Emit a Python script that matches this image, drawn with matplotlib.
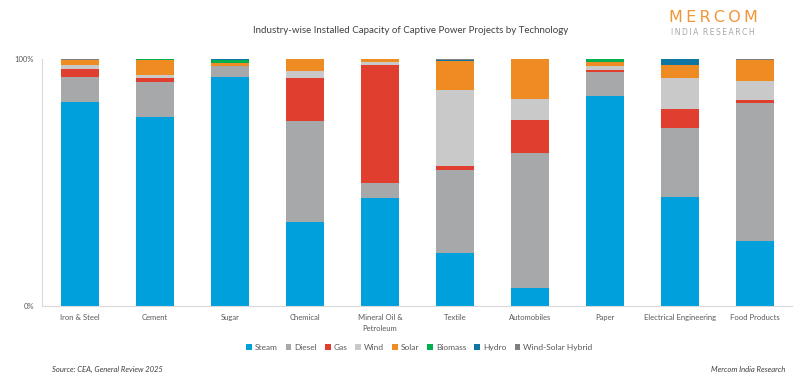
import numpy as np
import matplotlib
matplotlib.use("Agg")
import matplotlib.pyplot as plt
from matplotlib.patches import Patch

plt.rcParams['font.family'] = ['Lato', 'DejaVu Sans']

industries = ["Iron & Steel", "Cement", "Sugar", "Chemical", "Mineral Oil &\nPetroleum",
              "Textile", "Automobiles", "Paper", "Electrical Engineering", "Food Products"]

# share of installed capacity (%) per technology
steam = [82.6, 76.5, 92.7, 34.0, 43.7, 21.5, 7.3, 85.0, 44.1, 26.3]
diesel = [10.1, 14.2, 4.5, 40.9, 6.1, 33.6, 54.7, 9.7, 27.9, 55.9]
gas = [3.2, 1.6, 0.0, 17.4, 47.6, 1.6, 13.4, 0.9, 7.7, 1.3]
wind = [1.6, 1.2, 0.0, 2.9, 1.2, 30.8, 8.6, 1.7, 12.7, 7.8]
solar = [2.1, 6.1, 1.2, 4.8, 1.4, 11.7, 16.0, 1.3, 5.1, 8.3]
biomass = [0.0, 0.4, 1.2, 0.0, 0.0, 0.0, 0.0, 1.4, 0.0, 0.0]
hydro = [0.0, 0.0, 0.4, 0.0, 0.0, 0.4, 0.0, 0.0, 2.5, 0.0]
hybrid = [0.4, 0.0, 0.0, 0.0, 0.0, 0.4, 0.0, 0.0, 0.0, 0.4]

series = [("Steam", steam, "#00A0DC"), ("Diesel", diesel, "#A7A8AA"),
          ("Gas", gas, "#E03E2F"), ("Wind", wind, "#C9C9C9"),
          ("Solar", solar, "#EE8B22"), ("Biomass", biomass, "#00B050"),
          ("Hydro", hydro, "#0E76A0"), ("Wind-Solar Hybrid", hybrid, "#7F7F7F")]

fig = plt.figure(figsize=(8.06, 3.87), dpi=100)
ax = fig.add_axes([0.0527, 0.2093, 0.9305, 0.6382])

x = np.arange(len(industries))
bottom = np.zeros(len(industries))
for name, vals, col in series:
    vals = np.array(vals)
    ax.bar(x, vals, 0.5, bottom=bottom, color=col, label=name)
    bottom += vals

ax.set_xlim(-0.5, len(industries) - 0.5)
ax.set_ylim(0, 100)
ax.set_yticks([0, 100])
ax.set_yticklabels(["0%", "100%"])
ax.set_xticks(x)
ax.set_xticklabels(industries, fontsize=5.5, color="#595959", linespacing=1.6)
ax.tick_params(axis='y', labelsize=5.5, labelcolor="#595959", length=0, pad=6)
ax.tick_params(axis='x', length=0, pad=6)
for s in ["top", "right"]:
    ax.spines[s].set_visible(False)
ax.spines["left"].set_color("#D9D9D9")
ax.spines["bottom"].set_color("#D9D9D9")

fig.text(0.51, 0.922, "Industry-wise Installed Capacity of Captive Power Projects by Technology",
         ha="center", va="center", fontsize=7, color="#404040")

handles = [Patch(facecolor=c, edgecolor="none", label=n) for n, v, c in series]
fig.legend(handles=handles, loc="center", bbox_to_anchor=(0.52, 0.103), ncol=8,
           frameon=False, fontsize=6, handlelength=0.7, handleheight=0.7,
           handletextpad=0.3, columnspacing=1.0, labelcolor="#595959")

fig.text(0.064, 0.046, "Source: CEA, General Review 2025", fontsize=5.5,
         style="italic", color="#404040", va="center")
fig.text(0.974, 0.046, "Mercom India Research", fontsize=5.5,
         style="italic", color="#404040", va="center", ha="right")

# logo
fig.text(0.885, 0.955, "M E R C O M".replace(" ", "\u2009"), fontsize=11.5,
         color="#EE8B22", ha="center", va="center", family=["DejaVu Sans"],
         fontweight="normal", alpha=0.9)
fig.text(0.885, 0.915, "I N D I A   R E S E A R C H".replace(" ", "\u2009"), fontsize=5.5,
         color="#A6A6A6", ha="center", va="center", family=["DejaVu Sans"])

fig.savefig("out.png", dpi=100)
